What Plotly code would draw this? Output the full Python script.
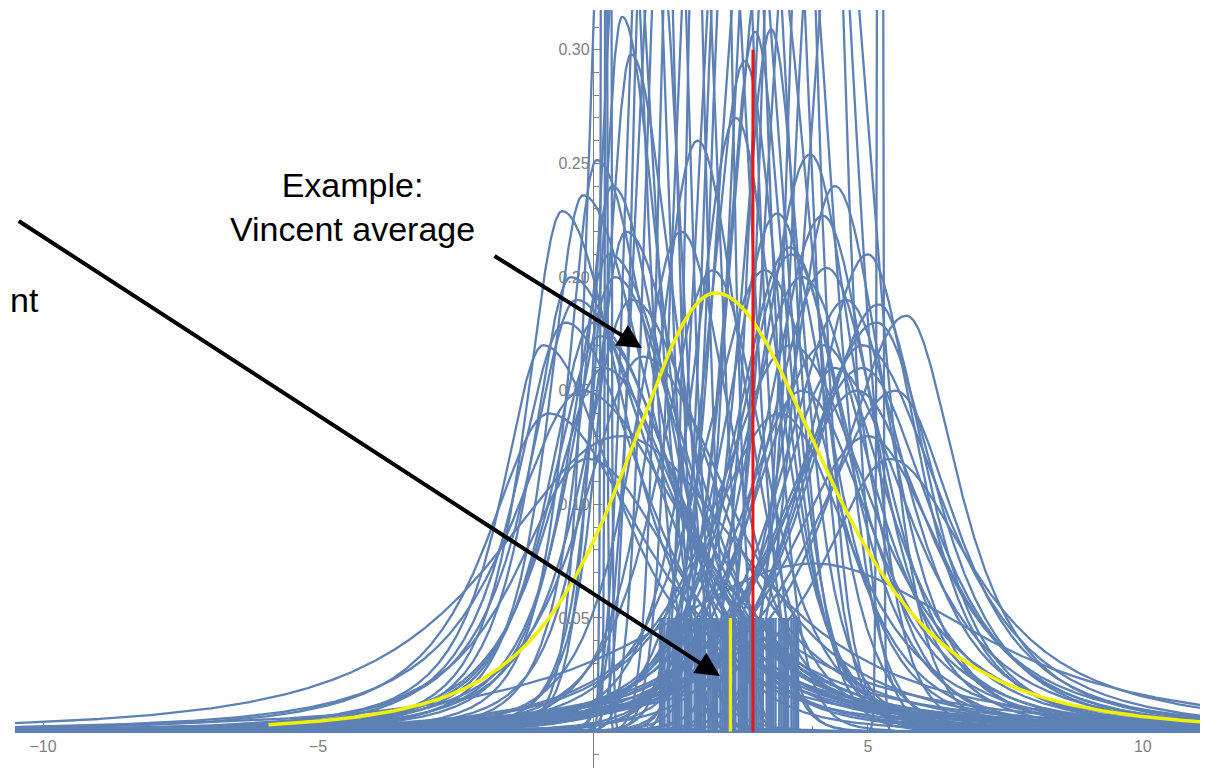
import numpy as np
import plotly.graph_objects as go

# ---------------- data ----------------
# individual (blue) curves: location of peak, peak height, left/right width, tail parameter
blue_loc = [
    # left group
    -0.56, -0.18, 0.07, 0.13, 0.53, 0.69, -0.30, 0.30, 0.90, -0.80, 0.50,
    -0.40, 0.00, 0.35, -0.90, 0.60, -0.20,
    # right group
    3.95, 4.18, 4.25, 4.60, 5.20, 5.70, 5.16, 3.35, 3.58, 3.13, 4.00, 4.80, 5.40,
    4.40, 3.80, 5.00, 4.90, 3.60, 5.50,
    # centre, visible peaks
    2.95, 3.24, 2.76, 2.60, 2.18, 1.60, 1.90,
    # tall curves running off the top
    0.35, 0.95, 1.35, 1.60, 1.85, 2.10, 2.35, 2.65, 3.00, 3.40, 3.70, 4.05, 4.45, 1.15, 3.20,
    0.55, 1.10, 2.50, 3.55, 4.20, 2.85,
    # extra medium curves
    0.20, -0.50, 0.40, 4.20, 3.80, 4.40, 0.70, 3.40, 5.00, 3.60, -0.10, 4.90,
    # very narrow spikes
    0.20, 0.28, 5.22,
]
blue_peak = [
    0.229, 0.236, 0.2515, 0.174, 0.3145, 0.298, 0.190, 0.210, 0.165, 0.140, 0.130,
    0.200, 0.180, 0.240, 0.170, 0.220, 0.150,
    0.254, 0.227, 0.204, 0.190, 0.188, 0.183, 0.180, 0.228, 0.213, 0.203, 0.074, 0.150, 0.120,
    0.240, 0.200, 0.210, 0.160, 0.170, 0.150,
    0.308, 0.309, 0.295, 0.270, 0.203, 0.220, 0.260,
    0.55, 0.45, 0.50, 0.60, 0.42, 0.70, 0.40, 0.55, 0.45, 0.50, 0.40, 0.60, 0.38, 0.36, 0.36,
    0.42, 0.55, 0.48, 0.60, 0.45, 0.38,
    0.16, 0.18, 0.20, 0.17, 0.15, 0.16, 0.19, 0.14, 0.13, 0.21, 0.12, 0.17,
    1.50, 1.50, 1.50,
]
blue_wl = [
    0.75, 0.70, 0.60, 1.00, 0.45, 0.50, 1.00, 0.80, 1.20, 1.30, 2.50,
    0.80, 0.90, 0.60, 0.90, 0.70, 1.50,
    1.00, 1.10, 1.20, 1.30, 1.40, 1.50, 1.60, 1.00, 1.10, 1.20, 3.20, 1.60, 1.50,
    0.90, 1.20, 1.20, 1.60, 1.50, 1.70,
    0.60, 0.60, 0.70, 0.80, 1.00, 0.90, 0.80,
    0.35, 0.32, 0.33, 0.30, 0.36, 0.28, 0.45, 0.40, 0.45, 0.45, 0.55, 0.40, 0.60, 0.40, 0.70,
    0.40, 0.30, 0.40, 0.40, 0.50, 0.60,
    1.10, 1.00, 0.90, 1.40, 1.30, 1.20, 1.00, 1.50, 1.60, 1.10, 1.40, 1.30,
    0.03, 0.03, 0.03,
]
blue_wr = [
    1.30, 1.40, 1.20, 1.60, 0.80, 0.90, 1.80, 1.50, 1.80, 2.00, 2.50,
    1.60, 1.70, 1.10, 1.60, 1.30, 2.20,
    0.90, 1.00, 1.10, 1.20, 1.00, 1.10, 1.20, 1.00, 1.10, 1.20, 3.20, 1.50, 1.80,
    1.00, 1.30, 1.00, 1.40, 1.60, 1.30,
    0.60, 0.60, 0.70, 0.80, 1.00, 1.00, 0.90,
    0.50, 0.38, 0.36, 0.34, 0.40, 0.32, 0.50, 0.45, 0.55, 0.50, 0.65, 0.45, 0.70, 0.45, 0.80,
    0.55, 0.34, 0.45, 0.45, 0.60, 0.65,
    1.60, 1.60, 1.40, 1.30, 1.40, 1.50, 1.60, 1.40, 1.50, 1.20, 1.80, 1.60,
    0.03, 0.03, 0.03,
]
blue_df = [
    2.0, 2.0, 2.0, 2.0, 2.5, 2.5, 1.5, 2.0, 2.0, 1.5, 2.0,
    2.0, 2.0, 2.5, 1.5, 2.0, 1.5,
    3.0, 3.0, 3.0, 2.0, 2.0, 1.5, 2.0, 3.0, 3.0, 3.0, 2.0, 1.5, 1.2,
    3.0, 2.5, 2.0, 2.0, 2.0, 1.5,
    3.0, 3.0, 3.0, 3.0, 3.0, 3.0, 3.0,
    6.0, 30.0, 30.0, 30.0, 30.0, 30.0, 10.0, 6.0, 6.0, 6.0, 6.0, 6.0, 6.0, 30.0, 5.0,
    5.0, 30.0, 10.0, 6.0, 5.0, 5.0,
    2.0, 2.0, 2.0, 2.0, 2.0, 2.0, 2.0, 2.0, 2.0, 2.0, 2.0, 2.0,
    8.0, 8.0, 8.0,
]

# Vincent average (yellow curve)
vincent_loc = 2.23
vincent_peak = 0.193
vincent_wl = 1.78
vincent_wr = 2.14
vincent_df = 3.0
vincent_start = -5.9

# individual means (short blue bars), Vincent mean (yellow bar), true value (red line)
bar_x = [
    1.22, 1.26, 1.30, 1.36, 1.39, 1.45, 1.49, 1.53, 1.57, 1.61, 1.67, 1.71, 1.75, 1.79,
    1.85, 1.89, 1.93, 1.97, 2.01, 2.04, 2.10, 2.14, 2.18, 2.22, 2.26, 2.32, 2.36, 2.40,
    2.44, 2.48, 2.52, 2.56, 2.59, 2.65, 2.69, 2.73, 2.77, 2.80, 2.85, 2.89, 2.93, 2.97,
    3.01, 3.05, 3.09, 3.16, 3.20, 3.24, 3.28, 3.32, 3.39, 3.43, 3.47, 3.51, 3.55, 3.61,
    3.65, 3.69, 3.73,
]
bar_height = 0.05
vincent_mean = 2.50
true_value = 2.91
true_height = 0.30

x_ticks = [-10, -5, 5, 10]
x_tick_text = ["\u221210", "\u22125", "5", "10"]
y_ticks = [0.05, 0.10, 0.15, 0.20, 0.25, 0.30]

# ---------------- helpers ----------------
X_MIN, X_MAX = -10.51, 11.04
Y_MIN, Y_MAX = -0.016, 0.3175
BLUE = "rgb(94,129,181)"
YELLOW = "rgb(240,240,0)"
RED = "rgb(232,24,24)"


def curve(x, loc, peak, wl, wr, df):
    w = np.where(x < loc, wl, wr)
    z = (x - loc) / w
    return peak * (1.0 + z * z / df) ** (-(df + 1.0) / 2.0)


xs = np.linspace(X_MIN, X_MAX, 2400)
fig = go.Figure()

for loc, pk, wl, wr, df in zip(blue_loc, blue_peak, blue_wl, blue_wr, blue_df):
    if wl < 0.1:
        xx = np.concatenate([np.linspace(X_MIN, loc - 0.3, 200), np.linspace(loc - 0.3, loc + 0.3, 600),
                             np.linspace(loc + 0.3, X_MAX, 200)])
    else:
        xx = xs
    fig.add_trace(go.Scatter(x=xx, y=curve(xx, loc, pk, wl, wr, df), mode="lines",
                             line=dict(color=BLUE, width=2.3), hoverinfo="skip", showlegend=False))

# bars of individual means
bx, by = [], []
for b in bar_x:
    bx += [b, b, None]
    by += [0, bar_height, None]
fig.add_trace(go.Scatter(x=bx, y=by, mode="lines", line=dict(color=BLUE, width=2.5),
                         hoverinfo="skip", showlegend=False))

# Vincent average curve
xv = np.linspace(vincent_start, X_MAX, 1200)
fig.add_trace(go.Scatter(x=xv, y=curve(xv, vincent_loc, vincent_peak, vincent_wl, vincent_wr, vincent_df),
                         mode="lines", line=dict(color=YELLOW, width=3.5), hoverinfo="skip", showlegend=False))
fig.add_trace(go.Scatter(x=[vincent_mean, vincent_mean], y=[0, bar_height], mode="lines",
                         line=dict(color=YELLOW, width=3.2), hoverinfo="skip", showlegend=False))
fig.add_trace(go.Scatter(x=[true_value, true_value], y=[0, true_height], mode="lines",
                         line=dict(color=RED, width=3.0), hoverinfo="skip", showlegend=False))

AX = "#808080"
tick_font = dict(family="Liberation Sans, Arial, sans-serif", size=16, color=AX)
fig.update_layout(
    width=1200, height=762,
    margin=dict(l=7, r=8, t=2, b=2),
    plot_bgcolor="white", paper_bgcolor="white",
    showlegend=False,
    xaxis=dict(range=[X_MIN, X_MAX], anchor="free", position=(0 - Y_MIN) / (Y_MAX - Y_MIN),
               showgrid=False, zeroline=False, showline=True, linecolor=AX, linewidth=1.3,
               tickmode="array", tickvals=x_ticks, ticktext=x_tick_text,
               ticks="inside", ticklen=8, tickwidth=1.2, tickcolor=AX, tickfont=tick_font,
               minor=dict(dtick=1, tick0=0, ticks="inside", ticklen=5, tickcolor=AX, showgrid=False),
               layer="below traces"),
    yaxis=dict(range=[Y_MIN, Y_MAX], anchor="free", position=(0 - X_MIN) / (X_MAX - X_MIN),
               showgrid=False, zeroline=False, showline=True, linecolor=AX, linewidth=1.3,
               tickmode="array", tickvals=y_ticks, tickformat=".2f",
               ticks="inside", ticklen=8, tickwidth=1.2, tickcolor=AX, tickfont=tick_font,
               minor=dict(dtick=0.01, tick0=0, ticks="inside", ticklen=5, tickcolor=AX, showgrid=False),
               layer="below traces"),
)

text_font = dict(family="Liberation Sans, Arial, sans-serif", size=34, color="black")
fig.add_annotation(x=(353 - 593) / 55, y=(731.6 - 207) / 2272, xref="x", yref="y",
                   text="Example:<br>Vincent average", showarrow=False, font=text_font, align="center")
fig.add_annotation(x=-0.0055, y=0.6174, xref="paper", yref="paper", text="nt", showarrow=False,
                   font=text_font, xanchor="left", yanchor="middle")
# arrows
fig.add_annotation(x=0.891, y=0.1688, xref="x", yref="y", ax=-1.818, ay=0.2097, axref="x", ayref="y",
                   text="", showarrow=True, arrowhead=2, arrowsize=1.2, arrowwidth=4, arrowcolor="black",
                   standoff=0)
fig.add_annotation(x=2.309, y=0.0245, xref="x", yref="y", ax=-10.47, ay=0.2251, axref="x", ayref="y",
                   text="", showarrow=True, arrowhead=2, arrowsize=1.2, arrowwidth=4, arrowcolor="black",
                   standoff=0)

fig.write_html("out.html")
